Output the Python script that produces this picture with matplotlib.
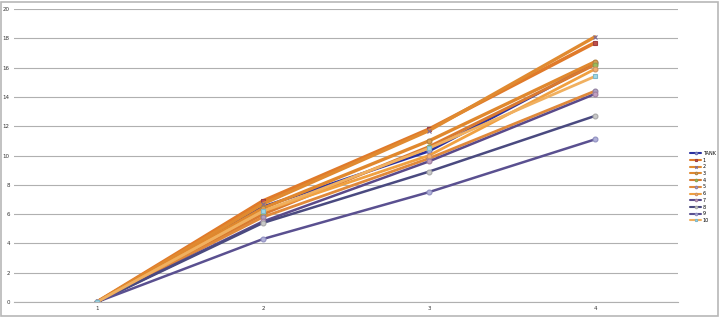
import matplotlib
matplotlib.use("Agg")
import matplotlib.pyplot as plt
from matplotlib.patches import Rectangle

categories = [1, 2, 3, 4]
series_names = ["TANK", "1", "2", "3", "4", "5", "6", "7", "8", "9", "10"]
tank = [0, 6.5, 10.3, 16.3]
s1 = [0, 6.9, 11.8, 17.7]
s2 = [0, 6.7, 11.7, 18.1]
s3 = [0, 6.4, 11.0, 16.4]
s4 = [0, 6.0, 10.6, 16.2]
s5 = [0, 5.8, 9.8, 14.4]
s6 = [0, 6.2, 10.0, 15.9]
s7 = [0, 5.5, 9.6, 14.2]
s8 = [0, 5.4, 8.9, 12.7]
s9 = [0, 4.3, 7.5, 11.1]
s10 = [0, 6.2, 10.5, 15.4]
y_ticks = list(range(0, 21, 2))

all_series = [tank, s1, s2, s3, s4, s5, s6, s7, s8, s9, s10]
styles = [
    dict(color="#2a30a0", lw=2.0, marker="o", mfc="#9aa0d8", mec="#6a70b0"),
    dict(color="#e07a2a", lw=2.6, marker="s", mfc="#c0504d", mec="#a04040"),
    dict(color="#e08a30", lw=2.4, marker="x", mfc="#7a6a9a", mec="#7a6a9a"),
    dict(color="#e0882e", lw=2.4, marker="o", mfc="#d9a050", mec="#b08040"),
    dict(color="#d97a30", lw=2.2, marker="o", mfc="#9bbb59", mec="#8aa050"),
    dict(color="#e0893a", lw=2.0, marker="o", mfc="#b0a0c0", mec="#9080a0"),
    dict(color="#f0a040", lw=2.0, marker="o", mfc="#f0b070", mec="#d09060"),
    dict(color="#5a4a8a", lw=1.8, marker="o", mfc="#c0a0c0", mec="#a080a0"),
    dict(color="#4a4a80", lw=1.8, marker="o", mfc="#c8c8c8", mec="#a8a8a8"),
    dict(color="#5a5090", lw=1.8, marker="o", mfc="#b0b0d8", mec="#9090c0"),
    dict(color="#f0b060", lw=2.0, marker="s", mfc="#a0d8e8", mec="#80b8c8"),
]

fig = plt.figure(figsize=(7.2, 3.17), dpi=100)
ax = fig.add_axes([14/720, 1 - 302/317, (678-14)/720, (302-9)/317])

for name, vals, st in zip(series_names, all_series, styles):
    ax.plot(categories, vals, color=st["color"], lw=st["lw"], marker=st["marker"],
            markersize=3.5, markerfacecolor=st["mfc"], markeredgecolor=st["mec"],
            markeredgewidth=0.8, label=name, solid_capstyle="round")

ax.set_xlim(0.5, 4.5)
ax.set_ylim(0, 20)
ax.set_yticks(y_ticks)
ax.set_xticks(categories)
ax.tick_params(axis="both", labelsize=4, length=0, colors="#333333", pad=3)
ax.grid(axis="y", color="#b0b0b0", lw=0.8)
ax.set_axisbelow(True)
for side in ["top", "right", "left"]:
    ax.spines[side].set_visible(False)
ax.spines["bottom"].set_color("#b0b0b0")
ax.spines["bottom"].set_linewidth(0.8)

leg = ax.legend(loc="center left", bbox_to_anchor=(686/720, 1 - 187/317),
                bbox_transform=fig.transFigure, fontsize=3.5, frameon=False,
                handlelength=2.2, labelspacing=0.35, handletextpad=0.3,
                markerscale=0.5)
for line in leg.get_lines():
    line.set_linewidth(1.5)

fig.patches.append(Rectangle((1/720, 1/317), 717/720, 314/317, transform=fig.transFigure,
                             fill=False, edgecolor="#b8b8b8", lw=1.2))

fig.savefig("out.png", dpi=100)
